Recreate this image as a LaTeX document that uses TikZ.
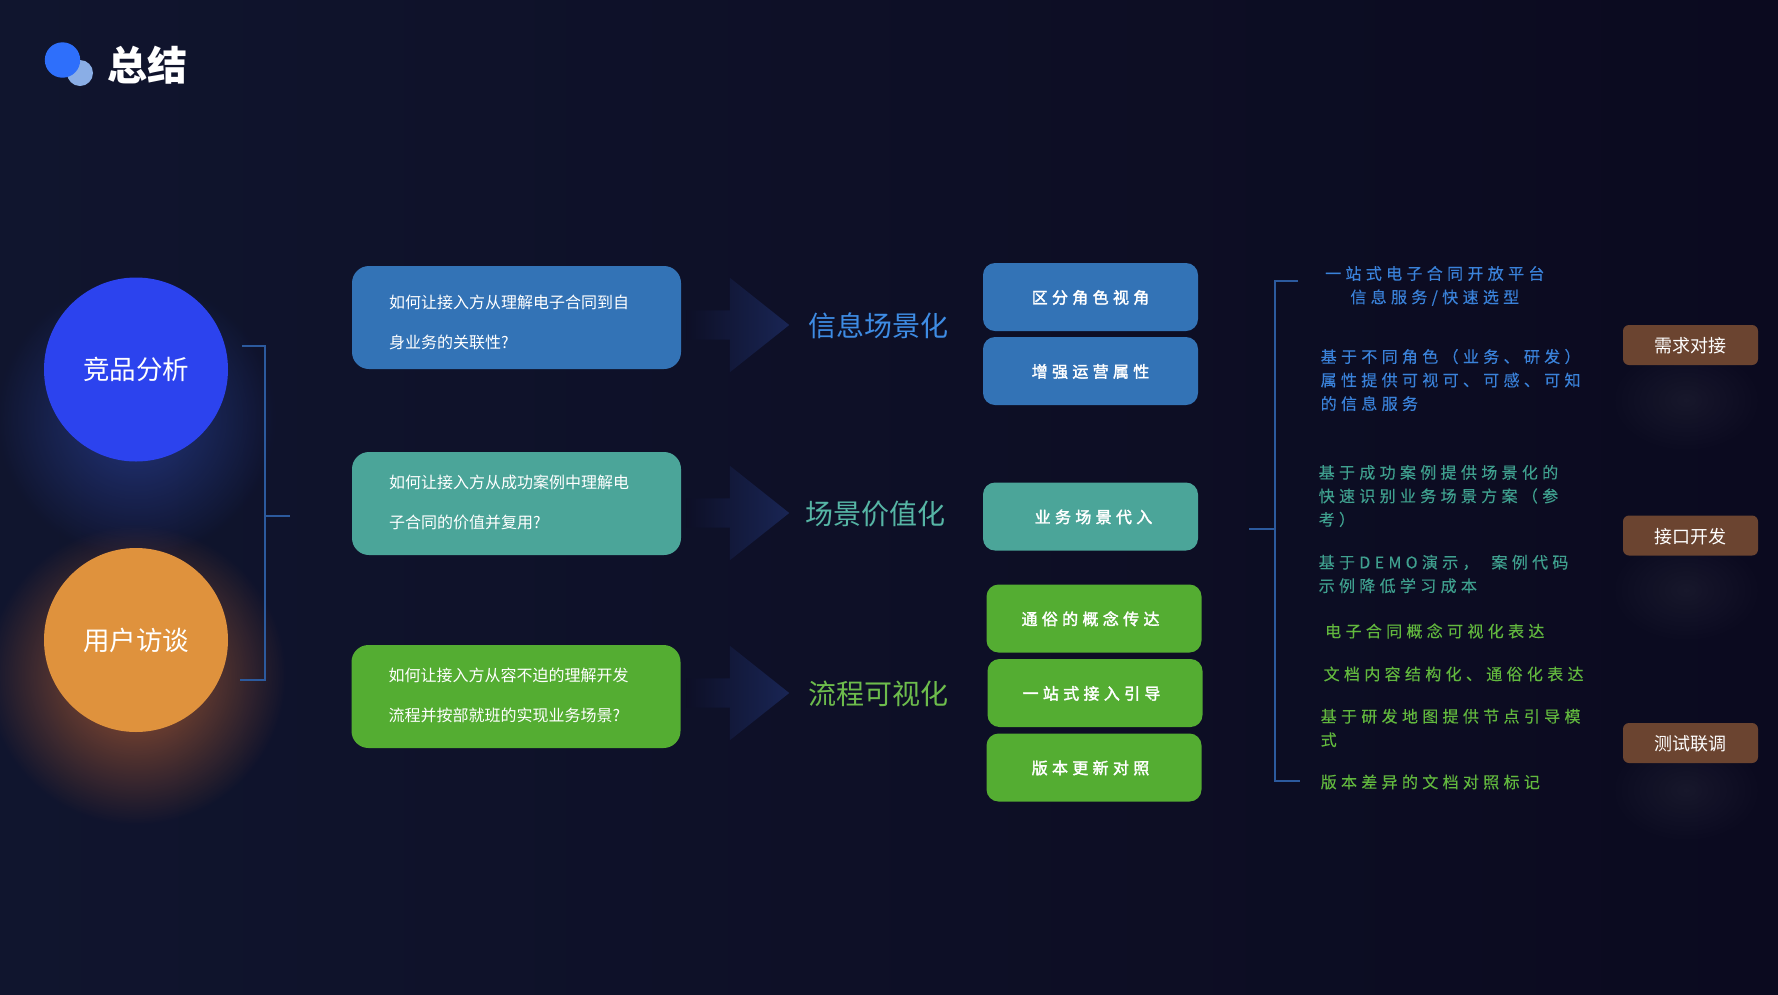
\documentclass[tikz,border=0pt]{standalone}
\usepackage{fontspec}
\setmainfont{Noto Sans CJK SC}
\newfontfamily\spaced[LetterSpace=27,FakeBold=0.2]{Noto Sans CJK SC}
\newfontfamily\spacedbold[LetterSpace=27,FakeBold=2.0]{Noto Sans CJK SC}
\usepackage{xcolor}
\usepackage{tikz}
\usetikzlibrary{shapes.arrows, fadings}
\definecolor{bgleft}{RGB}{16,21,46}
\definecolor{bgright}{RGB}{11,10,31}
\definecolor{bluecolor}{RGB}{51,115,182}
\definecolor{tealcolor}{RGB}{75,165,153}
\definecolor{greencolor}{RGB}{84,173,50}
\definecolor{bluetext}{RGB}{58,130,218}
\definecolor{tealtext}{RGB}{63,160,143}
\definecolor{greentext}{RGB}{98,184,62}
\definecolor{bluelabel}{RGB}{62,140,228}
\definecolor{teallabel}{RGB}{86,181,165}
\definecolor{greenlabel}{RGB}{109,188,76}
\definecolor{linecolor}{RGB}{44,90,158}
\definecolor{arrowcolor}{RGB}{25,37,84}
\definecolor{tagcolor}{RGB}{107,68,48}
\definecolor{glowblue}{RGB}{50,80,190}
\definecolor{glowwarm}{RGB}{180,95,50}
\definecolor{logoblue}{RGB}{46,111,251}
\definecolor{logolight}{RGB}{138,174,230}
\definecolor{competecolor}{RGB}{44,67,238}
\definecolor{interviewcolor}{RGB}{223,146,61}
\tikzfading[name=glowfade, inner color=transparent!0, outer color=transparent!100]

\begin{document}
\begin{tikzpicture}[
    x=1pt, y=-1pt,
    question/.style={rectangle, rounded corners=17pt, minimum width=329pt, minimum height=103pt, inner xsep=37pt, text width=255pt, align=left, text=white, font=\fontsize{16}{39.5}\selectfont},
    topic/.style={circle, minimum size=184pt, inner sep=0pt, text=white, font=\fontsize{26.5}{30}\selectfont},
    block/.style={rectangle, rounded corners=12pt, minimum width=215pt, minimum height=68pt, inner sep=0pt, text height=15pt, text depth=2pt, text=white, font=\spacedbold\fontsize{16}{20}\selectfont},
    label/.style={anchor=west, inner sep=0pt, font=\fontsize{28}{32}\selectfont},
    detail/.style={anchor=west, inner sep=0pt, align=left, font=\spaced\fontsize{16}{23.5}\selectfont},
    tag/.style={rectangle, rounded corners=6pt, minimum width=135pt, minimum height=40pt, inner sep=0pt, text height=18pt, text depth=2.5pt, fill=tagcolor, text=white, font=\fontsize{18}{22}\selectfont},
    bigarrow/.style={single arrow, minimum width=94pt, minimum height=103pt, inner sep=0pt, text height=29pt, single arrow head extend=32.5pt, single arrow tip angle=77, left color=bgleft!50!bgright, middle color=arrowcolor!75!bgleft, right color=arrowcolor},
    bracket/.style={draw=linecolor, line width=2pt}
]
\useasboundingbox (0,0) rectangle (1778,994);
\shade[left color=bgleft, right color=bgright] (0,0) rectangle (1778,994);

\fill[glowblue, opacity=0.55, path fading=glowfade] (136,418) circle (140);
\fill[glowwarm, opacity=0.85, path fading=glowfade] (136,675) circle (150);
\fill[white, opacity=0.05, path fading=glowfade] (1686,400) ellipse (80 and 55);
\fill[white, opacity=0.05, path fading=glowfade] (1686,590) ellipse (80 and 55);
\fill[white, opacity=0.05, path fading=glowfade] (1686,790) ellipse (80 and 55);

\fill[logolight] (80,73) circle (13);
\fill[logoblue] (62.5,60) circle (17.7);
\node[font=\bfseries\fontsize{40}{44}\selectfont, text=white] (title) at (147,65) {总结};

\node[topic, fill=competecolor] (compete) at (136,369.5) {竞品分析};
\node[topic, fill=interviewcolor] (interview) at (136,640) {用户访谈};

\coordinate (ltop) at (242,346);
\coordinate (lbot) at (240,680);
\coordinate (ljoin) at (265,516);
\coordinate (lstem) at (290,516);
\draw[bracket] (ltop) -| (ljoin) |- (lbot);
\draw[bracket] (ljoin) -- (lstem);

\node[question, fill=bluecolor] (q1) at (516.5,317.5) {\rule{0pt}{23.5pt}如何让接入方从理解电子合同到自\\身业务的关联性?};
\node[question, fill=tealcolor] (q2) at (516.5,503.5) {如何让接入方从成功案例中理解电\\子合同的价值并复用?\rule[-4pt]{0pt}{1pt}};
\node[question, fill=greencolor] (q3) at (516,696.5) {如何让接入方从容不迫的理解开发\\流程并按部就班的实现业务场景?\rule[-4pt]{0pt}{1pt}};

\node[bigarrow] (arr1) at (728.5,325) {};
\node[bigarrow] (arr2) at (728.5,513) {};
\node[bigarrow] (arr3) at (728.5,693) {};

\node[label, text=bluelabel] (info) at (808,326) {信息场景化};
\node[label, text=teallabel] (scene) at (805,514) {场景价值化};
\node[label, text=greenlabel] (flow) at (808,694) {流程可视化};

\node[block, fill=bluecolor] (b1) at (1090.5,297) {区分角色视角};
\node[block, fill=bluecolor] (b2) at (1090.5,371) {增强运营属性};
\node[block, fill=tealcolor] (b3) at (1090.5,516.5) {\hspace*{6pt}业务场景代入};
\node[block, fill=greencolor] (b4) at (1094,618.5) {\hspace*{-7pt}通俗的概念传达};
\node[block, fill=greencolor] (b5) at (1095,693) {\hspace*{-7pt}一站式接入引导};
\node[block, fill=greencolor] (b6) at (1094,767.5) {\hspace*{-7pt}版本更新对照};

\coordinate (rtop) at (1298,281);
\coordinate (rbot) at (1300,781);
\coordinate (rjoin) at (1275,529);
\coordinate (rstem) at (1249,529);
\draw[bracket] (rtop) -| (rjoin) |- (rbot);
\draw[bracket] (rjoin) -- (rstem);

\node[detail, align=center, text=bluetext] (d1) at (1325,286) {一站式电子合同开放平台\\信息服务/快速选型};
\node[detail, text=bluetext] (d2) at (1320.5,380) {基于不同角色（业务、研发）\\属性提供可视可、可感、可知\\的信息服务};
\node[detail, text=tealtext] (d3) at (1318.5,496) {基于成功案例提供场景化的\\快速识别业务场景方案（参\\考）};
\node[detail, text=tealtext] (d4) at (1318.5,574) {基于DEMO演示， \hspace*{5pt}案例代码\\示例降低学习成本};
\node[detail, text=greentext] (d5) at (1325,631) {电子合同概念可视化表达};
\node[detail, text=greentext] (d6) at (1323.5,674) {文档内容结构化、通俗化表达};
\node[detail, text=greentext] (d7) at (1320.5,728) {基于研发地图提供节点引导模\\式};
\node[detail, text=greentext] (d8) at (1320.5,782) {版本差异的文档对照标记};

\node[tag] (t1) at (1690.5,345) {需求对接};
\node[tag] (t2) at (1690.5,535.5) {接口开发};
\node[tag] (t3) at (1690.5,743) {测试联调};
\end{tikzpicture}
\end{document}
